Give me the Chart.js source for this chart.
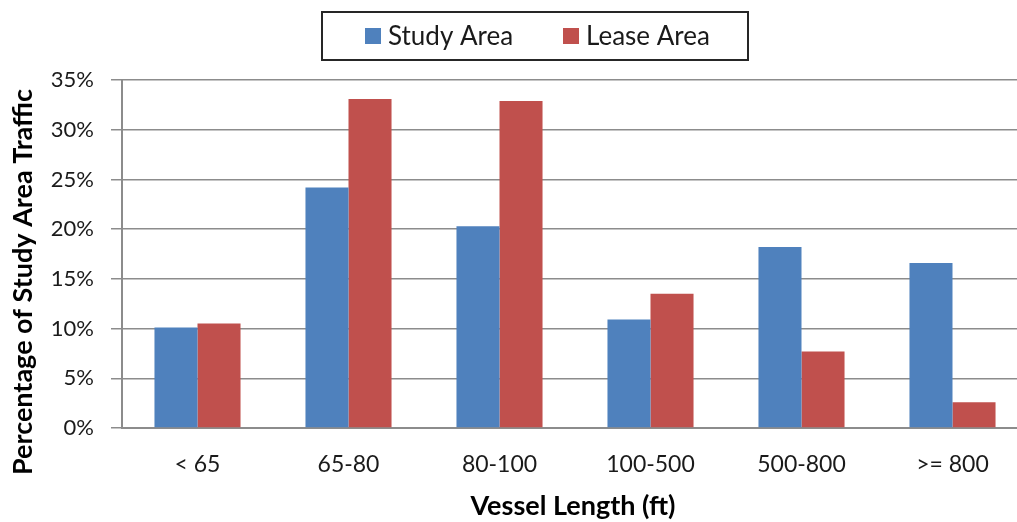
<!DOCTYPE html>
<html>
<head>
<meta charset="utf-8">
<script src="https://cdn.jsdelivr.net/npm/chart.js@4.4.1/dist/chart.umd.min.js"></script>
<style>
	html, body { margin: 0; padding: 0; background: #ffffff; overflow: hidden; }
	/* plot runs a little past the right edge of the page */
	#wrap { width: 1028px; height: 522px; }
</style>
</head>
<body>
<div id="wrap"><canvas id="chartVessel"></canvas></div>
<script>
'use strict';

// Vessel length bins and share of traffic (%)
var lengthBins = ['< 65', '65-80', '80-100', '100-500', '500-800', '>= 800'];
var studyArea = [10.1, 24.2, 20.3, 10.9, 18.2, 16.6];
var leaseArea = [10.5, 33.1, 32.9, 13.5, 7.7, 2.6];
var yTicks = [0, 5, 10, 15, 20, 25, 30, 35];

var FONT = 'Lato, "Open Sans", sans-serif';
var GRID = '#8c8c8c';

// Boxed legend and axis titles, drawn on top of the chart
var framePlugin = {
	id: 'frame',
	afterDraw: function(chart) {
		var ctx = chart.ctx;
		ctx.save();

		// legend box
		ctx.lineWidth = 2;
		ctx.strokeStyle = '#262626';
		ctx.strokeRect(322, 12, 426, 48);
		ctx.font = '26px ' + FONT;
		ctx.textBaseline = 'middle';
		var xs = [365, 563];
		chart.data.datasets.forEach(function(ds, i) {
			ctx.fillStyle = ds.backgroundColor;
			ctx.fillRect(xs[i], 28, 16, 16);
			ctx.fillStyle = '#1a1a1a';
			ctx.fillText(ds.label, xs[i] + 23, 37);
		});

		// axis titles
		ctx.font = 'bold 27px ' + FONT;
		ctx.fillStyle = '#000000';
		ctx.textAlign = 'center';
		ctx.textBaseline = 'middle';
		ctx.fillText('Vessel Length (ft)', 573, 506);
		ctx.translate(23, 282);
		ctx.rotate(-Math.PI / 2);
		ctx.fillText('Percentage of Study Area Traffic', 0, 0);
		ctx.restore();
	}
};

var ctx = document.getElementById('chartVessel').getContext('2d');
new Chart(ctx, {
	type: 'bar',
	data: {
		labels: lengthBins,
		datasets: [{
			label: 'Study Area',
			data: studyArea,
			backgroundColor: '#4f81bd',
			barPercentage: 1,
			categoryPercentage: 0.57
		}, {
			label: 'Lease Area',
			data: leaseArea,
			backgroundColor: '#c0504d',
			barPercentage: 1,
			categoryPercentage: 0.57
		}]
	},
	options: {
		responsive: true,
		maintainAspectRatio: false,
		animation: false,
		layout: {
			padding: { top: 80, right: 0, left: 0, bottom: 0 }
		},
		plugins: {
			legend: { display: false },
			tooltip: { enabled: false }
		},
		scales: {
			y: {
				min: 0,
				max: 35,
				afterFit: function(s) { s.width = 122; },
				afterBuildTicks: function(s) {
					s.ticks = yTicks.map(function(v) { return { value: v }; });
				},
				ticks: {
					padding: 17,
					color: '#1a1a1a',
					font: { family: FONT, size: 22 },
					callback: function(v) { return v + '%'; }
				},
				grid: {
					color: GRID,
					lineWidth: 1.5,
					tickLength: 11
				},
				border: { color: GRID, width: 2 }
			},
			x: {
				afterFit: function(s) { s.height = 94; },
				ticks: {
					padding: 23,
					color: '#1a1a1a',
					font: { family: FONT, size: 23 }
				},
				grid: {
					display: false,
					drawTicks: false
				},
				border: { color: GRID, width: 2 }
			}
		}
	},
	plugins: [framePlugin]
});
</script>
</body>
</html>
